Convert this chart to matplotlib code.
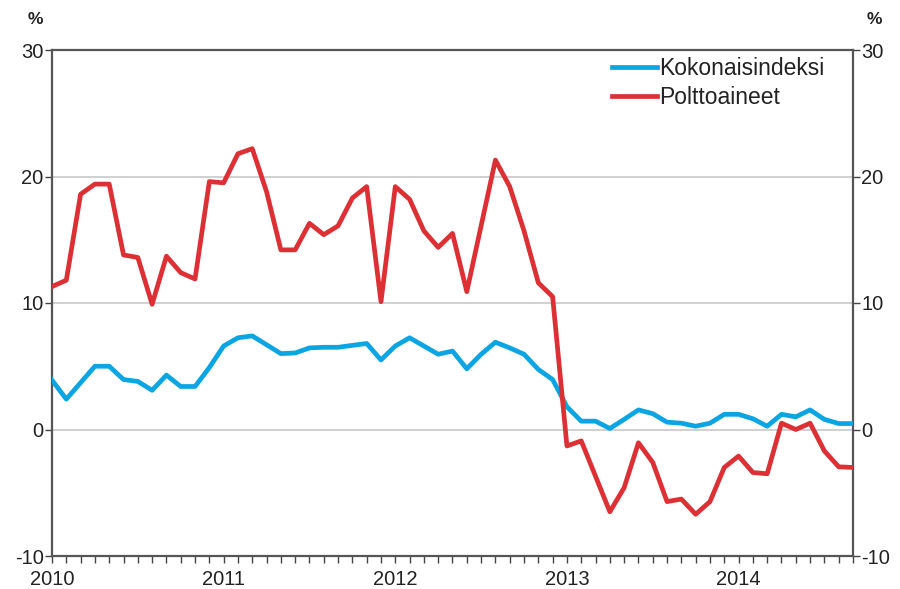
import numpy as np
import matplotlib
matplotlib.use("Agg")
import matplotlib.pyplot as plt

plt.rcParams['font.family'] = ['Liberation Sans', 'DejaVu Sans']

years = ['2010', '2011', '2012', '2013', '2014']
series_names = ['Kokonaisindeksi', 'Polttoaineet']

# Monthly values Jan 2010 - Sep 2014
kokonaisindeksi = [3.9, 2.4, 3.7, 5.0, 5.0, 3.95, 3.8, 3.1, 4.3, 3.4, 3.4, 4.9,
                   6.6, 7.25, 7.4, 6.7, 6.0, 6.05, 6.45, 6.5, 6.5, 6.65, 6.8, 5.5,
                   6.6, 7.25, 6.6, 5.95, 6.2, 4.8, 5.95, 6.9, 6.45, 5.95, 4.75, 3.95,
                   1.8, 0.66, 0.66, 0.08, 0.8, 1.55, 1.25, 0.58, 0.5, 0.26, 0.5, 1.2,
                   1.2, 0.85, 0.26, 1.2, 1.0, 1.55, 0.8, 0.47, 0.47]
polttoaineet = [11.3, 11.8, 18.6, 19.4, 19.4, 13.8, 13.6, 9.9, 13.7, 12.4, 11.9, 19.6,
                19.5, 21.8, 22.2, 18.8, 14.2, 14.2, 16.3, 15.4, 16.1, 18.3, 19.2, 10.1,
                19.2, 18.2, 15.7, 14.4, 15.5, 10.9, 16.1, 21.3, 19.2, 15.7, 11.6, 10.5,
                -1.3, -0.9, -3.7, -6.5, -4.6, -1.05, -2.6, -5.7, -5.5, -6.7, -5.7, -3.0,
                -2.1, -3.4, -3.5, 0.5, 0.0, 0.5, -1.7, -2.95, -3.0]

x = np.arange(len(kokonaisindeksi))

fig = plt.figure(figsize=(9, 5.89), dpi=100)
ax = fig.add_axes([52/900, 33/589, 801/900, 506/589])

blue = '#0AA5E2'
red = '#DD3035'
ax.plot(x, kokonaisindeksi, color=blue, lw=3.4, label=series_names[0], solid_joinstyle='round', zorder=3)
ax.plot(x, polttoaineet, color=red, lw=3.4, label=series_names[1], solid_joinstyle='round', zorder=3)

ax.set_xlim(0, len(x) - 1)
ax.set_ylim(-10, 30)
ax.set_yticks([-10, 0, 10, 20, 30])
ax.set_yticklabels(['-10', '0', '10', '20', '30'])
ax.set_xticks([12 * i for i in range(len(years))])
ax.set_xticklabels(years)
ax.set_xticks(x, minor=True)

txt = '#222222'
ax.tick_params(axis='x', which='both', direction='out', length=5, width=1, color='#444444',
               labelsize=14.5, labelcolor=txt, pad=5)
ax.tick_params(axis='y', which='both', direction='out', length=5, width=1, color='#444444',
               labelsize=14.5, labelcolor=txt, left=True, right=True, labelleft=True, labelright=True, pad=1)

for s in ax.spines.values():
    s.set_color('#555555')
    s.set_linewidth(1.6)

ax.yaxis.grid(True, color='#c8c8c8', lw=1.2)
ax.set_axisbelow(True)

fig.text(35/900, 1 - 20/589, '%', ha='center', va='center', fontsize=12.5, color=txt, fontweight='bold')
fig.text(874/900, 1 - 20/589, '%', ha='center', va='center', fontsize=12.5, color=txt, fontweight='bold')

ax.legend(loc='upper left', bbox_to_anchor=((612 - 52) / 801, 1 - 7 / 506), frameon=False,
          fontsize=16.5, handlelength=1.95, handletextpad=0.12, borderaxespad=0, borderpad=0,
          labelspacing=0.28, labelcolor=txt)

fig.savefig('out.png', dpi=100)
